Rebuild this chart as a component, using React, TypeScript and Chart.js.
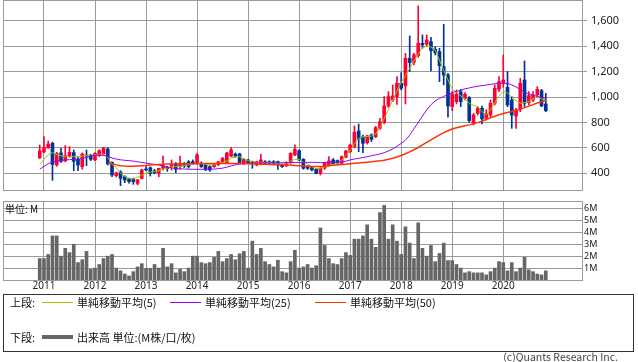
import React, { useEffect, useRef } from 'react';
import { Chart, registerables } from 'chart.js';

Chart.register(...registerables);

// first candle: December 2010, monthly candles
const FIRST_YEAR = 2010;
const FIRST_MONTH = 11;

const openP = [
  523, 568, 600, 636, 465, 560, 497, 531, 563, 510,
  452, 544, 544, 505, 539, 552, 591, 486, 381, 410,
  373, 355, 355, 320, 360, 432, 444, 420, 399, 439,
  447, 452, 478, 452, 478, 491, 491, 478, 478, 465,
  452, 452, 468, 491, 484, 536, 552, 552, 478, 505,
  491, 465, 472, 491, 491, 491, 491, 470, 458, 484,
  544, 578, 510, 455, 444, 431, 400, 440, 460, 505,
  500, 478, 526, 570, 610, 733, 688, 641, 702, 688,
  754, 799, 930, 977, 1004, 1109, 1088, 1306, 1274, 1327,
  1424, 1416, 1437, 1377, 1358, 1240, 1174, 925, 964, 1043,
  991, 996, 794, 872, 912, 833, 859, 951, 1061, 1109,
  1077, 977, 851, 904, 1135, 956, 977, 1017, 1051, 946,
];
const highP = [
  623, 688, 654, 645, 565, 597, 618, 610, 583, 531,
  560, 583, 550, 563, 585, 605, 602, 490, 410, 420,
  380, 362, 362, 352, 432, 452, 450, 430, 440, 536,
  455, 505, 485, 536, 485, 500, 505, 557, 490, 472,
  460, 478, 495, 525, 565, 604, 560, 558, 518, 510,
  496, 495, 549, 500, 498, 500, 495, 475, 490, 562,
  623, 585, 515, 462, 450, 436, 444, 485, 531, 515,
  505, 536, 580, 630, 773, 788, 700, 700, 710, 770,
  833, 1004, 1043, 1096, 1161, 1193, 1345, 1482, 1345, 1718,
  1490, 1490, 1471, 1398, 1385, 1574, 1188, 1043, 1056, 1061,
  1035, 1004, 872, 925, 930, 899, 977, 1096, 1161, 1332,
  1201, 1004, 912, 1148, 1285, 1043, 1043, 1082, 1061, 1030,
];
const lowP = [
  515, 560, 595, 344, 455, 485, 490, 525, 420, 420,
  431, 460, 500, 500, 532, 545, 465, 373, 370, 302,
  326, 321, 313, 308, 355, 420, 378, 395, 372, 425,
  415, 425, 405, 432, 445, 440, 470, 470, 445, 420,
  415, 445, 460, 485, 478, 530, 525, 478, 470, 478,
  439, 458, 465, 470, 475, 465, 431, 445, 452, 478,
  538, 500, 432, 430, 418, 395, 386, 430, 455, 465,
  470, 470, 520, 562, 600, 570, 562, 630, 650, 680,
  745, 790, 920, 965, 943, 1056, 946, 1201, 1253, 1314,
  1385, 1398, 1206, 1332, 1122, 1096, 841, 893, 946, 925,
  977, 799, 780, 859, 788, 820, 846, 938, 1043, 1077,
  925, 754, 754, 885, 925, 938, 964, 1004, 925, 885,
];
const closeP = [
  575, 602, 630, 470, 555, 494, 539, 565, 494, 465,
  552, 536, 510, 557, 578, 599, 473, 386, 402, 360,
  347, 334, 334, 347, 426, 426, 400, 405, 439, 465,
  436, 470, 431, 478, 457, 452, 478, 544, 452, 431,
  426, 473, 491, 518, 560, 584, 531, 484, 510, 484,
  478, 491, 505, 478, 482, 474, 465, 452, 484, 557,
  589, 505, 439, 439, 426, 399, 439, 478, 497, 473,
  478, 531, 575, 623, 723, 670, 636, 694, 667, 759,
  807, 930, 1004, 1009, 1109, 1069, 1306, 1272, 1332, 1424,
  1411, 1450, 1366, 1350, 1248, 1174, 930, 1025, 1022, 964,
  1022, 815, 859, 912, 828, 872, 951, 1069, 1122, 1135,
  938, 859, 899, 1109, 951, 1012, 1017, 1061, 930, 893,
];
// volume, millions
const volume = [
  1.8, 1.8, 2.14, 3.7, 3.7, 2.0, 2.66, 2.3, 3.0, 1.46,
  1.7, 2.4, 0.9, 1.0, 1.3, 1.8, 2.0, 2.14, 1.0, 0.77,
  0.5, 0.34, 0.7, 1.1, 1.37, 0.97, 0.97, 1.3, 1.0, 2.66,
  1.1, 1.37, 0.6, 0.9, 0.7, 1.0, 2.0, 2.0, 1.46, 1.37,
  1.46, 1.9, 2.4, 1.54, 1.8, 2.14, 1.7, 2.2, 2.4, 1.0,
  3.26, 2.14, 2.66, 1.54, 1.3, 1.1, 1.66, 0.7, 0.6, 1.54,
  2.49, 1.0, 1.1, 1.3, 1.0, 1.2, 4.37, 2.9, 1.8, 1.37,
  1.3, 1.8, 2.3, 2.06, 3.43, 3.43, 3.7, 4.63, 3.43, 2.74,
  5.66, 6.26, 3.43, 4.63, 3.26, 2.14, 4.46, 3.1, 1.8, 4.8,
  2.66, 2.0, 2.9, 1.54, 2.23, 3.1, 1.63, 1.63, 1.3, 1.0,
  0.6, 0.7, 0.6, 0.6, 0.6, 0.43, 0.7, 1.0, 1.54, 1.46,
  0.77, 1.46, 0.7, 1.0, 1.9, 0.86, 0.7, 0.5, 0.43, 0.77,
];
const ma5 = [
  470, 510, 545, 562, 548, 538, 533, 531, 531, 530,
  535, 540, 544, 545, 548, 552, 525, 470, 445, 400,
  375, 360, 355, 368, 385, 400, 410, 415, 420, 432,
  440, 452, 452, 455, 460, 465, 473, 478, 476, 470,
  465, 468, 478, 485, 495, 520, 531, 530, 515, 500,
  491, 485, 485, 485, 485, 480, 474, 470, 472, 495,
  510, 510, 485, 475, 452, 435, 440, 450, 462, 470,
  478, 500, 540, 578, 630, 675, 688, 690, 692, 710,
  760, 830, 900, 975, 1050, 1115, 1170, 1225, 1285, 1340,
  1390, 1400, 1395, 1372, 1290, 1210, 1135, 1060, 1038, 1010,
  985, 950, 935, 925, 885, 860, 899, 955, 1010, 1043,
  1035, 1000, 970, 952, 955, 964, 985, 1000, 985, 975,
];
const ma25 = [
  431, 455, 475, 490, 495, 500, 505, 507, 510, 512,
  515, 525, 535, 542, 544, 540, 532, 520, 512, 506,
  502, 499, 496, 490, 485, 480, 475, 470, 465, 455,
  450, 442, 438, 435, 433, 432, 431, 431, 431, 431,
  431, 433, 436, 440, 448, 458, 466, 472, 476, 478,
  480, 481, 482, 482, 482, 483, 483, 483, 484, 484,
  485, 485, 486, 486, 486, 486, 484, 485, 486, 487,
  488, 490, 495, 505, 512, 518, 524, 530, 538, 545,
  552, 562, 575, 592, 612, 635, 660, 700, 750, 800,
  850, 900, 940, 970, 990, 1005, 1020, 1035, 1045, 1055,
  1065, 1072, 1080, 1086, 1090, 1095, 1100, 1105, 1110, 1110,
  1108, 1096, 1080, 1060, 1040, 1025, 1015, 1005, 998, 990,
];
const ma50 = [
  null, null, null, null, null, null, null, null, null, null,
  null, null, null, null, null, null, 478, 472, 466, 460,
  457, 455, 456, 458, 460, 462, 465, 467, 469, 470,
  472, 472, 473, 473, 474, 474, 475, 475, 476, 476,
  476, 477, 477, 477, 477, 477, 476, 476, 475, 474,
  473, 472, 471, 470, 469, 468, 467, 466, 465, 464,
  462, 460, 458, 456, 454, 453, 454, 456, 459, 462,
  465, 468, 471, 475, 478, 481, 484, 487, 490, 494,
  498, 503, 510, 518, 528, 540, 554, 568, 585, 603,
  623, 643, 663, 683, 703, 720, 735, 748, 758, 766,
  774, 781, 789, 799, 811, 824, 837, 849, 861, 871,
  879, 887, 896, 905, 917, 929, 941, 954, 964, 975,
];

const yearTicks = [2011, 2012, 2013, 2014, 2015, 2016, 2017, 2018, 2019, 2020];
const priceTicks = [400, 600, 800, 1000, 1200, 1400, 1600];
const volumeTicks = [1, 2, 3, 4, 5, 6];

const X_MIN = 2010.197;
const X_MAX = 2021.543;
const GRID = '#9a9a9a';
const UP = '#ff0033';
const DOWN = '#003399';
const C_MA5 = '#99cc00';
const C_MA25 = '#9900ff';
const C_MA50 = '#ff3300';
const C_VOL = '#666666';

const xs: number[] = [];
for (let i = 0; i < openP.length; i++) xs.push(FIRST_YEAR + (FIRST_MONTH + i) / 12);

const framePlugin = {
  id: 'frame',
  afterDraw(chart: any) {
    const { ctx, chartArea: a } = chart;
    ctx.save();
    ctx.strokeStyle = GRID;
    ctx.lineWidth = 1;
    ctx.strokeRect(a.left + 0.5, a.top + 0.5, a.right - a.left, a.bottom - a.top);
    ctx.restore();
  },
};

const yearAxis = (showLabels: boolean, h: number) => ({
  type: 'linear' as const,
  min: X_MIN,
  max: X_MAX,
  offset: false,
  afterBuildTicks: (s: any) => {
    s.ticks = yearTicks.map((v) => ({ value: v }));
  },
  ticks: {
    display: showLabels,
    autoSkip: false,
    maxRotation: 0,
    padding: 0,
    color: '#222',
    font: { family: 'Noto Sans', size: 10 },
    callback: (v: any) => String(v),
  },
  grid: { color: GRID, drawTicks: false, offset: false },
  border: { display: false },
  afterFit: (s: any) => {
    s.height = h;
    s.paddingLeft = 0;
    s.paddingRight = 0;
  },
});

export default function App() {
  const topRef = useRef<HTMLCanvasElement | null>(null);
  const volRef = useRef<HTMLCanvasElement | null>(null);

  useEffect(() => {
    const colors = closeP.map((c, i) => (c >= openP[i] ? UP : DOWN));
    const line = (data: (number | null)[], color: string, w: number, order: number) => ({
      type: 'line' as const,
      data: xs.map((x, i) => ({ x, y: data[i] })),
      borderColor: color,
      borderWidth: w,
      pointRadius: 0,
      tension: 0,
      spanGaps: false,
      order,
    });
    const top = new Chart(topRef.current as HTMLCanvasElement, {
      type: 'bar',
      data: {
        datasets: [
          line(ma50, C_MA50, 1.5, 0) as any,
          line(ma25, C_MA25, 1, 1) as any,
          line(ma5, C_MA5, 1, 2) as any,
          {
            type: 'bar',
            data: xs.map((x, i) => ({ x, y: [openP[i], closeP[i]] })),
            backgroundColor: colors,
            barThickness: 3,
            grouped: false,
            minBarLength: 1,
            order: 3,
          } as any,
          {
            type: 'bar',
            data: xs.map((x, i) => ({ x, y: [lowP[i], highP[i]] })),
            backgroundColor: colors,
            barThickness: 1,
            grouped: false,
            order: 4,
          } as any,
        ],
      },
      options: {
        responsive: false,
        animation: false,
        events: [],
        layout: { padding: { left: 3, top: 0, right: 0, bottom: 1 } },
        plugins: { legend: { display: false }, tooltip: { enabled: false } },
        scales: {
          x: yearAxis(false, 0) as any,
          y: {
            type: 'linear',
            position: 'right',
            min: 268,
            max: 1765,
            afterBuildTicks: (s: any) => {
              s.ticks = priceTicks.map((v) => ({ value: v }));
            },
            ticks: {
              padding: 4,
              color: '#222',
              font: { family: 'Noto Sans', size: 11 },
              callback: (v: any) => Number(v).toLocaleString('en-US'),
            },
            grid: { color: GRID, tickLength: 5 },
            border: { display: false },
            afterFit: (s: any) => {
              s.width = 56;
              s.paddingTop = 0;
              s.paddingBottom = 0;
            },
          } as any,
        },
      },
      plugins: [framePlugin],
    });

    const vol = new Chart(volRef.current as HTMLCanvasElement, {
      type: 'bar',
      data: {
        datasets: [
          {
            data: xs.map((x, i) => ({ x, y: volume[i] })),
            backgroundColor: C_VOL,
            barThickness: 3,
          } as any,
        ],
      },
      options: {
        responsive: false,
        animation: false,
        events: [],
        layout: { padding: { left: 3, top: 6, right: 0, bottom: 0 } },
        plugins: { legend: { display: false }, tooltip: { enabled: false } },
        scales: {
          x: yearAxis(true, 15) as any,
          y: {
            type: 'linear',
            position: 'right',
            min: 0,
            max: 6.63,
            afterBuildTicks: (s: any) => {
              s.ticks = volumeTicks.map((v) => ({ value: v }));
            },
            ticks: {
              padding: 2,
              color: '#222',
              font: { family: 'Noto Sans', size: 9 },
              callback: (v: any) => v + 'M',
            },
            grid: { color: GRID, drawTicks: false },
            border: { display: false },
            afterFit: (s: any) => {
              s.width = 56;
              s.paddingTop = 0;
              s.paddingBottom = 0;
            },
          } as any,
        },
      },
      plugins: [framePlugin],
    });

    return () => {
      top.destroy();
      vol.destroy();
    };
  }, []);

  const jp = '"Noto Sans CJK JP", "Noto Sans", sans-serif';
  const txt = (left: number, cy: number, s: string, size = 11, color = '#111') => (
    <div
      style={{
        position: 'absolute',
        left,
        top: cy - 7,
        height: 14,
        lineHeight: '14px',
        fontSize: size,
        fontFamily: jp,
        color,
        whiteSpace: 'nowrap',
      }}
    >
      {s}
    </div>
  );
  const swatch = (left: number, cy: number, color: string, h: number) => (
    <div
      style={{
        position: 'absolute',
        left,
        top: cy - Math.floor(h / 2),
        width: 31,
        height: h,
        background: color,
      }}
    />
  );

  return (
    <div style={{ position: 'absolute', left: 0, top: 0, width: 638, height: 362, background: '#fff' }}>
      <canvas ref={topRef} width={638} height={191} style={{ position: 'absolute', left: 0, top: 0 }} />
      <canvas ref={volRef} width={638} height={100} style={{ position: 'absolute', left: 0, top: 195 }} />
      {txt(5, 209, '単位: M', 10)}
      <div
        style={{
          position: 'absolute',
          left: 3,
          top: 294,
          width: 631,
          height: 58,
          border: '1px solid #333',
          boxSizing: 'border-box',
        }}
      />
      {txt(10, 302, '上段:')}
      {swatch(42, 302, C_MA5, 1)}
      {txt(77, 302, '単純移動平均(5)')}
      {swatch(170, 302, C_MA25, 1)}
      {txt(205, 302, '単純移動平均(25)')}
      {swatch(315, 302, C_MA50, 1)}
      {txt(350, 302, '単純移動平均(50)')}
      {txt(10, 337, '下段:')}
      {swatch(42, 337, C_VOL, 4)}
      {txt(77, 337, '出来高 単位:(M株/口/枚)')}
      <div
        style={{
          position: 'absolute',
          right: 638 - 618,
          top: 350,
          height: 14,
          lineHeight: '14px',
          fontSize: 10.5,
          fontFamily: jp,
          color: '#444',
          whiteSpace: 'nowrap',
        }}
      >
        (c)Quants Research Inc.
      </div>
    </div>
  );
}
